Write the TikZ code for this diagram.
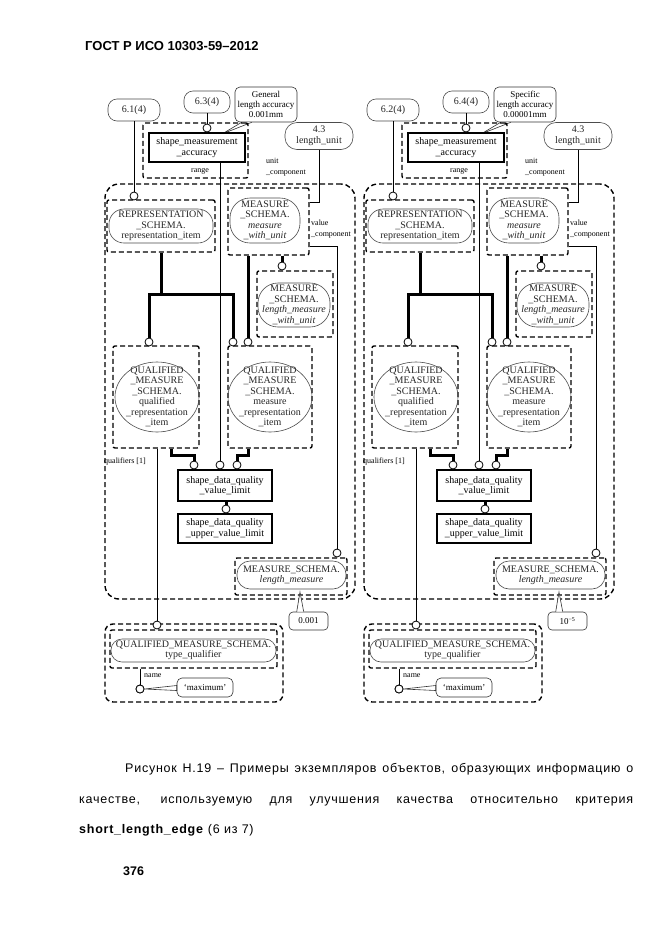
\documentclass[tikz,border=0pt]{standalone}
\usepackage{fontspec}
\setmainfont{Liberation Serif}
\newfontfamily\sansf{Liberation Sans}
\newfontfamily\sansls[LetterSpace=6]{Liberation Sans}
\usetikzlibrary{calc}

\tikzset{
 dg/.style={font=\fontsize{10}{10.5}\selectfont, align=center, inner sep=0pt},
 pillnode/.style={dg, draw=black!70, line width=0.6pt, rounded corners=9pt, text=black!85},
 dbox/.style={draw, line width=1.4pt, dash pattern=on 5pt off 3pt, rounded corners=2pt, inner sep=0pt},
 sbox/.style={dg, draw, line width=1.3pt, fill=white},
 conn/.style={draw, line width=0.9pt},
 thk/.style={draw, line width=3pt},
 ring/.style={circle, draw, fill=white, line width=0.8pt, minimum size=8pt, inner sep=0pt},
 lbl/.style={font=\fontsize{8}{11}\selectfont, align=left, inner sep=0pt},
 callout/.style={font=\fontsize{9}{10}\selectfont, align=center, draw=black!80, line width=0.6pt, rounded corners=5pt, inner sep=0pt, fill=white},
 tail/.style={draw=black!80, line width=0.6pt, fill=white},
 ell/.style={draw=black!70, line width=0.6pt},
 capf/.style={font=\sansls\fontsize{12.5}{14}\selectfont, inner sep=0pt},
}

\newcommand\dgm[4]{%
% top
\node[callout,minimum width=62pt,minimum height=35pt] (cg) at (266,104.5) {#3};
\coordinate (tipA) at (222,134);
\filldraw[tail] ([xshift=7pt]cg.south west) -- (tipA) -- ([xshift=17pt]cg.south west);
\node[pillnode,minimum width=52pt,minimum height=22pt] (p1) at (134,110) {#1};
\node[pillnode,minimum width=46pt,minimum height=22pt] (p2) at (207,102) {#2};
\node[pillnode,minimum width=68pt,minimum height=27pt,rounded corners=12pt] (p3) at (319,136) {4.3\\length\_unit};
\node[dbox,minimum width=105pt,minimum height=55pt] (d1) at (195.5,150.5) {};
\node[sbox,minimum width=96pt,minimum height=29pt] (sma) at (197,147.5) {shape\_measurement\\\_accuracy};
\node[lbl] (rng) at (200,171) {range};
\node[lbl,anchor=north west] (ucomp) at (266,158) {unit\\\_component};
% region
\node[dbox,rounded corners=14pt,minimum width=250pt,minimum height=415pt] (reg) at (230,391.5) {};
% representation
\node[dbox,minimum width=108pt,minimum height=52pt] (repb) at (161,226) {};
\node[pillnode,minimum width=104pt,minimum height=34pt,rounded corners=15pt] (rep) at (161,226) {REPRESENTATION\\\_SCHEMA.\\representation\_item};
% measure with unit
\node[dbox,minimum width=81pt,minimum height=67pt] (mwub) at (268.5,221.5) {};
\node[pillnode,minimum width=70pt,minimum height=45pt,rounded corners=20pt] (mwu) at (265,220.5) {MEASURE\\\_SCHEMA.\\\textit{measure}\\\textit{\_with\_unit}};
\node[lbl,anchor=north west] (vcomp) at (311,220) {value\\\_component};
% length measure with unit
\node[dbox,minimum width=76pt,minimum height=66pt] (lmwub) at (295,304) {};
\node[pillnode,minimum width=72pt,minimum height=44pt,rounded corners=20pt] (lmwu) at (294,305) {MEASURE\\\_SCHEMA.\\\textit{length\_measure}\\\textit{\_with\_unit}};
% qualified boxes
\node[dbox,minimum width=86pt,minimum height=102pt] (qrib) at (156,397) {};
\node[dg,text=black!85] (qri) at (157,397) {QUALIFIED\\\_MEASURE\\\_SCHEMA.\\qualified\\\_representation\\\_item};
\draw[ell] (qri.center) ellipse [x radius=42, y radius=35];
\node[dbox,minimum width=84pt,minimum height=102pt] (mrib) at (270,397) {};
\node[dg,text=black!85] (mri) at (270,397) {QUALIFIED\\\_MEASURE\\\_SCHEMA.\\measure\\\_representation\\\_item};
\draw[ell] (mri.center) ellipse [x radius=42, y radius=35];
\node[lbl,anchor=west] (qlab) at (104,462) {qualifiers [1]};
% value limit boxes
\node[sbox,minimum width=94pt,minimum height=31pt] (val) at (225,485.5) {shape\_data\_quality\\\_value\_limit};
\node[sbox,minimum width=94pt,minimum height=29pt] (upv) at (225,528.5) {shape\_data\_quality\\\_upper\_value\_limit};
% length measure
\node[dbox,minimum width=112pt,minimum height=37pt] (lmb) at (291,576.5) {};
\node[pillnode,minimum width=109pt,minimum height=28pt,rounded corners=13pt] (lm) at (291.5,575) {MEASURE\_SCHEMA.\\\textit{length\_measure}};
\node[callout,minimum width=39pt,minimum height=18pt,rounded corners=4pt] (cv) at (308.5,621) {#4};
\coordinate (tipB) at (300,592);
\filldraw[tail] ([xshift=8pt]cv.north west) -- (tipB) -- ([xshift=15pt]cv.north west);
% type qualifier
\node[dbox,rounded corners=8pt,minimum width=178pt,minimum height=78pt] (tqo) at (194,663) {};
\node[dbox,minimum width=167pt,minimum height=38pt] (tqi) at (193.5,649) {};
\node[pillnode,minimum width=165pt,minimum height=23pt,rounded corners=11pt] (tq) at (193.5,650.5) {QUALIFIED\_MEASURE\_SCHEMA.\\type\_qualifier};
\node[lbl,anchor=west] (nlab) at (144,676) {name};
\node[callout,minimum width=56pt,minimum height=19pt] (cm) at (205,687.5) {`maximum'};
% rings
\node[ring] (cr) at (207,128) {};
\node[ring] (c1) at (134,196) {};
\node[ring] (cl2) at (282,266) {};
\node[ring] (cq1) at (149,342) {};
\node[ring] (cq2a) at (233,342) {};
\node[ring] (cq2b) at (248,342) {};
\node[ring] (cv1) at (194,465) {};
\node[ring] (cv2) at (220,465) {};
\node[ring] (cv3) at (237,465) {};
\node[ring] (cu) at (226,509) {};
\node[ring] (clm) at (337,553) {};
\node[ring] (ctq) at (157,625) {};
\node[ring] (cn) at (140,689) {};
% connectors
\draw[conn] (p2.south) -- (cr.north);
\draw[conn] (p1.south) -- (c1.north);
\draw[conn] (p3.south) |- ($(mwub.north east)+(0,15)$);
\draw[conn] ($(mwub.south east)+(0,-9)$) -| (clm.north);
\draw[conn] (sma.south -| cv2) -- (cv2.north);
\draw[conn] (qrib.south -| ctq) -- (ctq.north);
\draw[conn] (tqi.south -| cn) -- (cn.north);
\filldraw[tail] (cn.east) -- ($(cm.west)+(0,-2)$) -- ($(cm.west)+(0,3)$) -- cycle;
\node[ring] at (cn) {};
\draw[thk] (mwub.south -| cl2) -- (cl2.north);
\draw[thk] (repb.south) -- ++(0,42) coordinate (jn);
\draw[thk,line join=miter] (cq1.north) |- (jn) -| (cq2a.north);
\draw[thk] (mwub.south -| cq2b) -- (cq2b.north);
\draw[thk,line join=miter] ([xshift=15pt]qrib.south) -- ++(0,7) -| (cv1.north);
\draw[thk,line join=miter] (mrib.south -| cq2b) -- ++(0,7) -| (cv3.north);
\draw[thk] (val.south -| cu) -- (cu.north);
}

\begin{document}
\begin{tikzpicture}[x=1pt,y=-1pt]
\useasboundingbox (0,0) rectangle (661,935);
\fill[white] (0,0) rectangle (661,935);
\node[font=\sansf\bfseries\fontsize{13}{15}\selectfont,anchor=west,inner sep=0pt] (hdr) at (85,46) {ГОСТ Р ИСО 10303-59–2012};

\begin{scope}[name prefix=L-]
\dgm{6.1(4)}{6.3(4)}{General\\length accuracy\\0.001mm}{0.001}
\end{scope}
\begin{scope}[shift={(259,0)},name prefix=R-]
\dgm{6.2(4)}{6.4(4)}{Specific\\length accuracy\\0.00001mm}{10\textsuperscript{−5}}
\end{scope}

\node[capf,anchor=west] (cap1) at (125,769) {\makebox[508pt][s]{Рисунок Н.19 – Примеры экземпляров объектов, образующих информацию о}};
\node[capf,anchor=west] (cap2) at (79,801) {\makebox[554pt][s]{качестве, используемую для улучшения качества относительно критерия}};
\node[capf,anchor=west] (cap3) at (79,830) {\textbf{short\_length\_edge} (6 из 7)};
\node[font=\sansf\bfseries\fontsize{12.5}{14}\selectfont,anchor=west,inner sep=0pt] (pg) at (123,871) {376};
\end{tikzpicture}
\end{document}
